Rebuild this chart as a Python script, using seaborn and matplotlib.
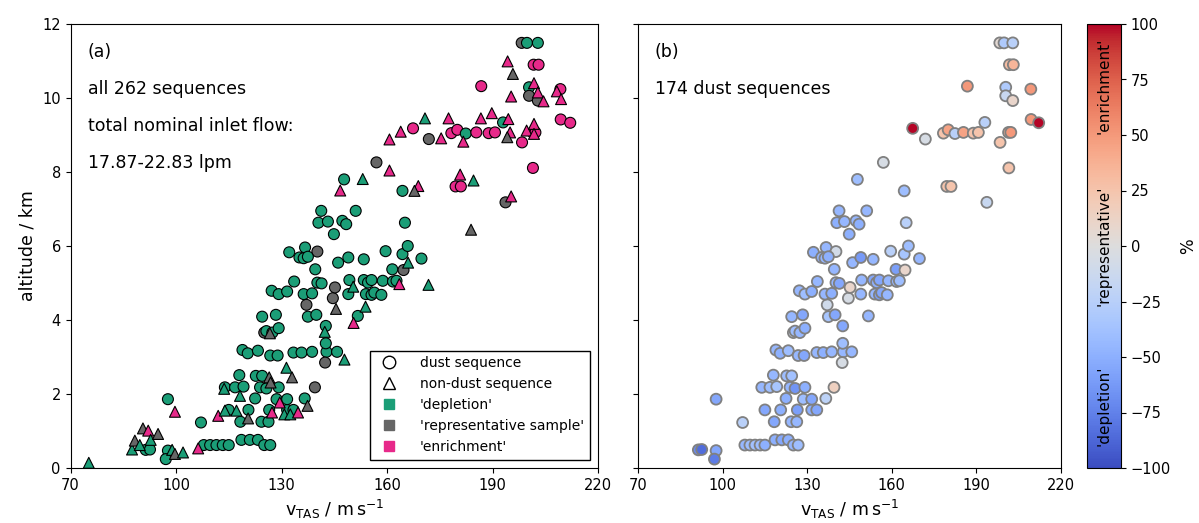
import numpy as np
import pandas as pd
import matplotlib
matplotlib.use("Agg")
from matplotlib import pyplot as plt
from matplotlib.lines import Line2D
import seaborn as sns

# dust sequences (circles): true air speed, altitude, deviation in %
dust_v = [91.4, 92.6, 97.7, 97.1, 97.7, 107.1,
          107.9, 109.7, 111.5, 113.3, 115.0,
          118.6, 121.0, 123.3, 125.1, 126.8,
          115.0, 120.6, 126.5, 131.6, 133.4,
          118.3, 124.3, 126.3,
          122.5, 128.6, 131.6, 136.6,
          139.5,
          113.9, 116.8, 119.2,
          123.9, 125.7, 129.2,
          118.0, 122.7, 124.5,
          118.9, 120.4, 123.3, 126.8, 128.9, 133.4, 135.7, 138.7, 142.8, 145.8, 142.6, 142.4,
          124.5, 128.4, 137.5, 139.9, 151.7,
          142.6,
          125.1, 125.7, 127.4, 129.2,
          137.1, 144.6,
          157.0, 147.8, 164.4, 141.3, 151.1,
          140.5, 143.2, 147.3, 148.4, 144.9, 165.1,
          132.2, 136.7, 140.2, 135.1, 136.3, 137.5,
          146.1, 149.0, 153.4, 159.6, 164.4, 165.9, 169.8,
          139.6, 161.5, 164.7,
          127.2, 129.2, 131.6, 133.6, 136.3, 138.7, 140.2, 141.4, 145.2,
          149.3, 149.0,
          153.4, 154.6, 155.6, 158.8, 161.7, 162.7,
          154.0, 155.6, 156.4, 158.4,
          198.3, 199.8, 202.9, 201.7, 203.1, 186.8, 209.3,
          200.4, 200.4, 202.9, 167.4, 209.4, 212.1, 171.9,
          178.3, 180.0, 182.4, 185.4, 188.9, 190.7, 193.0,
          198.4, 201.4, 202.2, 201.5, 179.5, 181.0, 193.7]
dust_alt = [0.49, 0.50, 0.47, 0.24, 1.86, 1.23,
            0.62, 0.62, 0.62, 0.62, 0.62,
            0.76, 0.76, 0.76, 0.62, 0.62,
            1.57, 1.57, 1.57, 1.57, 1.57,
            1.25, 1.25, 1.25,
            1.88, 1.86, 1.86, 1.88,
            2.18,
            2.18, 2.18, 2.20,
            2.18, 2.15, 2.18,
            2.51, 2.49, 2.49,
            3.19, 3.10, 3.17, 3.04, 3.04, 3.12, 3.12, 3.14, 3.14, 3.14, 3.37, 2.85,
            4.09, 4.14, 4.09, 4.14, 4.11,
            3.84,
            3.66, 3.70, 3.66, 3.78,
            4.41, 4.59,
            8.26, 7.80, 7.49, 6.95, 6.95,
            6.63, 6.66, 6.68, 6.59, 6.32, 6.63,
            5.83, 5.96, 5.85, 5.69, 5.67, 5.71,
            5.55, 5.69, 5.64, 5.86, 5.78, 6.00, 5.66,
            5.37, 5.37, 5.35,
            4.79, 4.70, 4.77, 5.04, 4.70, 4.72, 5.01, 4.99, 4.88,
            5.08, 4.70,
            5.08, 5.01, 5.08, 5.06, 5.04, 5.06,
            4.70, 4.68, 4.74, 4.68,
            11.49, 11.49, 11.49, 10.90, 10.90, 10.32, 10.24,
            10.29, 10.06, 9.93, 9.18, 9.42, 9.33, 8.89,
            9.05, 9.14, 9.04, 9.07, 9.05, 9.07, 9.34,
            8.80, 9.07, 9.07, 8.11, 7.61, 7.61, 7.18]
dust_pct = [-70, -85, -55, -78, -55, -25,
            -45, -40, -38, -40, -50,
            -50, -55, -50, -45, -40,
            -55, -50, -60, -50, -55,
            -55, -45, -45,
            -50, -40, -55, -22,
            15,
            -45, -40, -35,
            -45, -65, -50,
            -45, -40, -38,
            -45, -50, -40, -45, -55, -45, -50, -45, -45, -45, -40, -5,
            -45, -55, -35, -55, -45,
            -55,
            -8, -40, -45, -50,
            -10, -5,
            -5, -40, -40, -45, -45,
            -50, -45, -45, -50, -50, -25,
            -50, -45, -8, -45, -45, -50,
            -45, -62, -45, -25, -35, -40, -45,
            -45, -60, 10,
            -45, -40, -50, -45, -45, -50, -45, -55, 10,
            -45, -45,
            -55, -50, -55, -45, -45, -40,
            -45, -60, -55, -45,
            5, -30, -25, 30, 35, 50, 50,
            -30, -15, 10, 100, 50, 100, -5,
            25, 45, -25, 45, 25, 25, -25,
            25, 40, 50, 25, 25, 25, -15]

# non-dust sequences (triangles): true air speed, altitude, class
nondust_v = [75.2, 87.5, 88.3, 89.7, 90.6, 92.1, 92.8, 94.9,
             99.7, 98.9, 99.7, 102.0, 106.3,
             112.0, 113.9, 117.2, 120.5, 113.7, 118.2,
             126.5, 126.9, 131.4, 133.0, 127.3, 129.5, 130.8, 132.5, 134.7, 137.4, 126.7,
             145.5, 153.9, 150.5, 147.9, 166.0, 171.8, 150.4, 163.5, 142.3,
             146.7, 153.1, 160.7, 160.7, 163.9, 168.9, 167.8,
             170.8, 175.4, 177.5, 181.7, 186.7, 189.8, 194.5, 195.0, 194.2, 199.7, 201.8, 201.8,
             180.8, 184.6, 195.3, 183.9,
             194.3, 195.8, 195.3, 201.8, 202.9, 204.5, 208.3, 209.5]
nondust_alt = [0.14, 0.50, 0.74, 0.62, 1.07, 1.01, 0.76, 0.92,
               1.52, 0.49, 0.38, 0.42, 0.53,
               1.41, 1.55, 1.55, 1.34, 2.14, 1.95,
               2.45, 2.31, 2.71, 2.45, 1.50, 1.77, 1.45, 1.45, 1.50, 1.68, 3.64,
               4.30, 4.36, 3.92, 2.93, 5.55, 4.95, 4.90, 4.97, 3.68,
               7.50, 7.81, 8.04, 8.88, 9.09, 7.62, 7.49,
               9.45, 8.91, 9.45, 8.82, 9.45, 9.59, 9.43, 9.07, 8.94, 9.12, 9.30, 9.03,
               7.93, 7.77, 7.34, 6.44,
               10.99, 10.65, 10.04, 10.40, 10.15, 9.91, 10.18, 9.97]
nondust_cls = ["d", "d", "r", "d", "r", "e", "d", "r",
               "e", "d", "r", "d", "e",
               "e", "d", "d", "r", "d", "d",
               "r", "r", "d", "r", "e", "e", "d", "d", "e", "r", "r",
               "r", "d", "e", "d", "d", "d", "d", "e", "d",
               "e", "d", "e", "e", "e", "e", "r",
               "d", "e", "e", "e", "e", "e", "e", "e", "r", "e", "e", "e",
               "e", "d", "e", "r",
               "e", "r", "e", "e", "e", "e", "e", "e"]

cls_names = {"d": "'depletion'", "r": "'representative sample'", "e": "'enrichment'"}
cls_colors = {"'depletion'": "#1b9e77", "'representative sample'": "#666666", "'enrichment'": "#e7298a"}

x_ticks = [70, 100, 130, 160, 190, 220]
y_ticks = [0, 2, 4, 6, 8, 10, 12]
cbar_ticks = [-100, -75, -50, -25, 0, 25, 50, 75, 100]


def classify(pct):
    if pct < -20:
        return "'depletion'"
    if pct > 20:
        return "'enrichment'"
    return "'representative sample'"


dust = pd.DataFrame({"v": dust_v, "alt": dust_alt, "pct": dust_pct})
dust["cls"] = dust["pct"].apply(classify)
dust["kind"] = "dust"
nondust = pd.DataFrame({"v": nondust_v, "alt": nondust_alt,
                        "cls": [cls_names[c] for c in nondust_cls]})
nondust["kind"] = "non-dust"
all_seq = pd.concat([dust, nondust], ignore_index=True)

W, H = 1199, 523
fig = plt.figure(figsize=(W / 100, H / 100), dpi=100)
ax1 = fig.add_axes([70.5 / W, 55 / H, 527.5 / W, 444 / H])
ax2 = fig.add_axes([638 / W, 55 / H, 423 / W, 444 / H])
cax = fig.add_axes([1087 / W, 55 / H, 34 / W, 444 / H])

# (a) all sequences
sns.scatterplot(data=all_seq, x="v", y="alt", hue="cls", style="kind",
                markers={"dust": "o", "non-dust": "^"}, palette=cls_colors,
                s=62, edgecolor="k", linewidth=0.8, legend=False, ax=ax1)

# (b) dust sequences coloured by deviation
sns.scatterplot(data=dust, x="v", y="alt", hue="pct", palette="coolwarm",
                hue_norm=(-100, 100), s=62, edgecolor="grey", linewidth=1.3,
                legend=False, ax=ax2)

for ax in (ax1, ax2):
    ax.set_xlim(70, 220)
    ax.set_ylim(0, 12)
    ax.set_xticks(x_ticks)
    ax.set_yticks(y_ticks)
    ax.tick_params(labelsize=10.5)
    ax.set_xlabel(r"v$_\mathrm{TAS}$ / m$\,$s$^{-1}$", fontsize=12.5)
ax1.set_ylabel("altitude / km", fontsize=12.5)
ax2.set_ylabel("")
ax2.set_yticklabels([])

txt = dict(transform=ax1.transAxes, fontsize=12.5, va="center", ha="left")
ax1.text(0.033, 0.937, "(a)", **txt)
ax1.text(0.033, 0.854, "all 262 sequences", **txt)
ax1.text(0.033, 0.770, "total nominal inlet flow:", **txt)
ax1.text(0.033, 0.687, "17.87-22.83 lpm", **txt)
ax2.text(0.04, 0.937, "(b)", transform=ax2.transAxes, fontsize=12.5, va="center")
ax2.text(0.04, 0.854, "174 dust sequences", transform=ax2.transAxes, fontsize=12.5, va="center")

handles = [
    Line2D([], [], marker="o", ls="", mfc="white", mec="k", ms=9, label="dust sequence"),
    Line2D([], [], marker="^", ls="", mfc="white", mec="k", ms=9, label="non-dust sequence"),
]
for name, col in cls_colors.items():
    handles.append(Line2D([], [], marker="s", ls="", mfc=col, mec=col, ms=7, label=name))
leg = ax1.legend(handles=handles, loc="lower right", fontsize=10, fancybox=False,
                 framealpha=1, edgecolor="k", borderaxespad=0.6, handletextpad=1.2)
leg.get_frame().set_linewidth(1.0)

sm = plt.cm.ScalarMappable(cmap="coolwarm", norm=plt.Normalize(-100, 100))
cbar = fig.colorbar(sm, cax=cax, ticks=cbar_ticks)
cbar.ax.tick_params(labelsize=10.5)
cbar.set_label("%", fontsize=12, labelpad=6)
for yv, lab in [(-72, "'depletion'"), (0, "'representative'"), (72, "'enrichment'")]:
    cax.text(0.5, yv, lab, rotation=90, ha="center", va="center", fontsize=11)

fig.savefig("out.png", dpi=100)
